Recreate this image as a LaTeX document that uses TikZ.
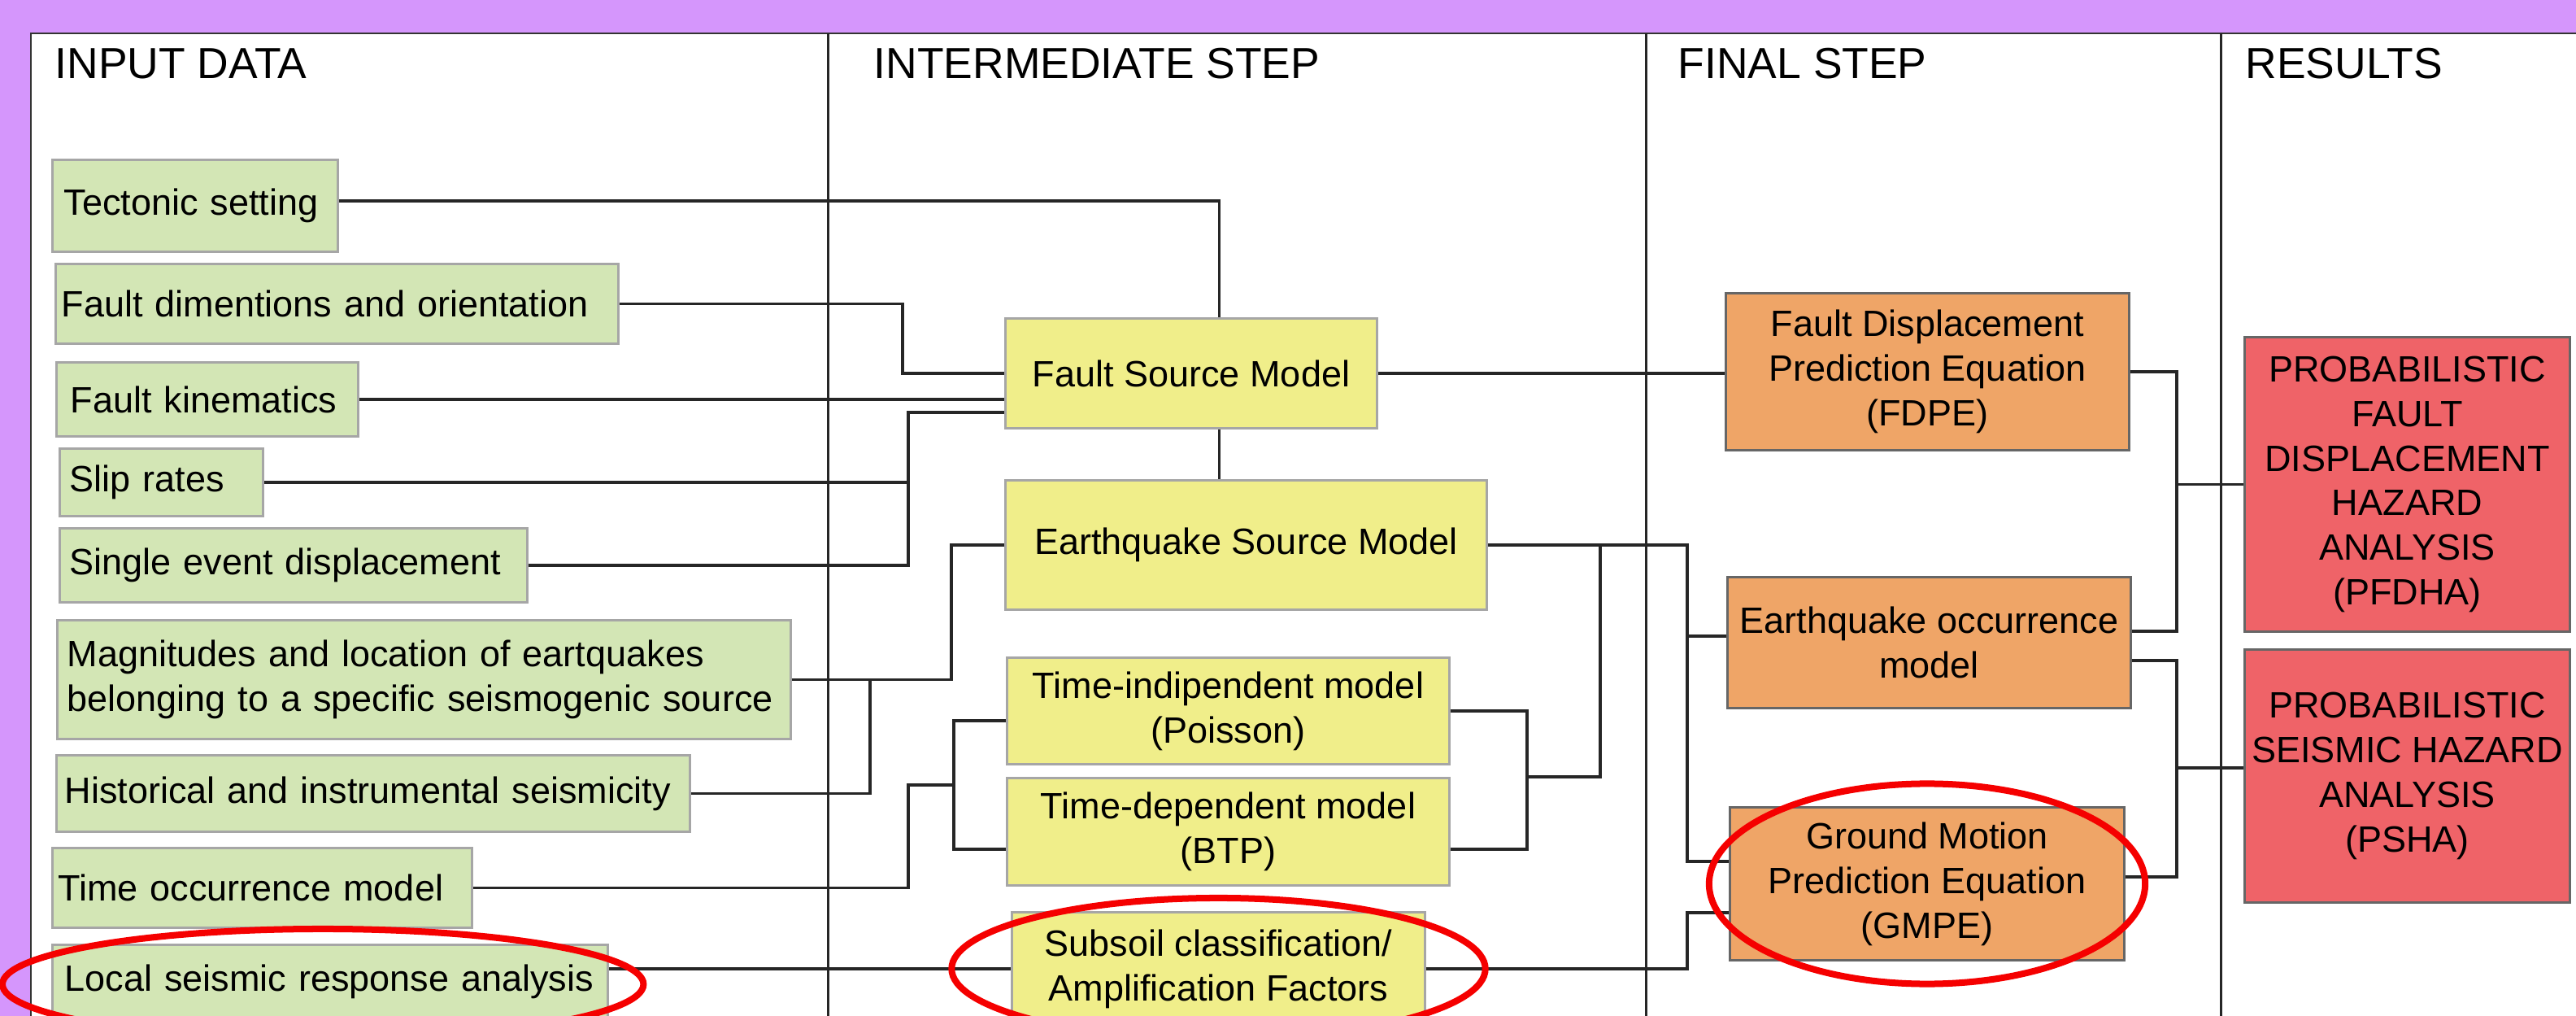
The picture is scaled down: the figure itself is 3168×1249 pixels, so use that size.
\documentclass[tikz,border=0pt]{standalone}
\usepackage{fontspec}
\setmainfont{Liberation Sans}
\usepackage{xcolor}
\usepackage{tikz}

\definecolor{fond}{RGB}{213,150,252}
\definecolor{vert}{RGB}{211,230,181}
\definecolor{jaune}{RGB}{240,238,138}
\definecolor{orangeclair}{RGB}{239,165,103}
\definecolor{rouge}{RGB}{239,99,104}
\definecolor{rougevif}{RGB}{245,0,0}

\newcommand{\corps}{\fontsize{12.8}{15.6}\selectfont}
\newcommand{\entete}{\fontsize{15.2}{18}\selectfont}

\begin{document}
\begin{tikzpicture}[x=0.01cm,y=-0.01cm]
    % Styles (MODIFIABLES)
    \tikzstyle{entree}=[draw=black!35,line width=0.03cm,fill=vert,anchor=west,align=left,font=\corps,inner ysep=0pt]
    \tikzstyle{etape}=[draw=black!35,line width=0.03cm,fill=jaune,align=center,font=\corps,inner sep=0.05cm]
    \tikzstyle{final}=[etape,draw=black!60,fill=orangeclair]
    \tikzstyle{resultat}=[etape,draw=black!60,fill=rouge]
    \tikzstyle{lien}=[line width=0.035cm,black!85]
    \tikzstyle{colonne}=[line width=0.03cm,black!85]
    \tikzstyle{titre}=[anchor=base west,inner sep=0pt,font=\entete]
    \tikzstyle{cercle}=[draw=rougevif,line width=0.08cm]
    % Fond et colonnes
    \clip (0,0) rectangle (3168,1249);
    \fill[fond] (0,0) rectangle (3168,1249);
    \filldraw[fill=white,draw=black!80,line width=0.015cm] (38,41) rectangle (3180,1260);
    \foreach \x in {1018,2024,2731}
        \draw[colonne] (\x,41) -- (\x,1249);
    \node[titre] (t1) at (67,97) {INPUT DATA};
    \node[titre] (t2) at (1074,97) {INTERMEDIATE STEP};
    \node[titre] (t3) at (2063,97) {FINAL STEP};
    \node[titre] (t4) at (2761,97) {RESULTS};
    % Noeuds : donnees d'entree
    \node[entree,inner xsep=0.14cm,text width=3.23cm,minimum height=1.12cm] (tect) at (63,253) {Tectonic setting};
    \node[entree,inner xsep=0.07cm,text width=6.78cm,minimum height=0.97cm] (fdim) at (67,373.5) {Fault dimentions and orientation};
    \node[entree,inner xsep=0.17cm,text width=3.37cm,minimum height=0.90cm] (fkin) at (68,491) {Fault kinematics};
    \node[entree,inner xsep=0.12cm,text width=2.26cm,minimum height=0.82cm] (slip) at (72,593) {Slip rates};
    \node[entree,inner xsep=0.12cm,text width=5.51cm,minimum height=0.90cm] (sed) at (72,695) {Single event displacement};
    \node[entree,inner xsep=0.12cm,text width=8.77cm,minimum height=1.45cm] (mag) at (69,835.5) {Magnitudes and location of eartquakes\\belonging to a specific seismogenic source};
    \node[entree,inner xsep=0.10cm,text width=7.59cm,minimum height=0.93cm] (hist) at (68,975.5) {Historical and instrumental seismicity};
    \node[entree,inner xsep=0.07cm,text width=5.02cm,minimum height=0.97cm] (tocc) at (63,1091.5) {Time occurrence model};
    \node[entree,inner xsep=0.15cm,text width=6.53cm,minimum height=0.90cm] (local) at (63,1207) {Local seismic response analysis};
    % Noeuds : etape intermediaire
    \node[etape,minimum width=4.56cm,minimum height=1.34cm] (fsm) at (1465,459) {Fault Source Model};
    \node[etape,minimum width=5.91cm,minimum height=1.58cm] (esm) at (1532.5,670) {Earthquake Source Model};
    \node[etape,minimum width=5.43cm,minimum height=1.30cm] (tind) at (1510.5,874) {Time-indipendent model\\(Poisson)};
    \node[etape,minimum width=5.43cm,minimum height=1.31cm] (tdep) at (1510.5,1022.5) {Time-dependent model\\(BTP)};
    \node[etape,minimum width=5.07cm,minimum height=1.38cm] (sub) at (1498.5,1191) {Subsoil classification/\\Amplification Factors};
    % Noeuds : etape finale
    \node[final,minimum width=4.95cm,minimum height=1.92cm] (fdpe) at (2370.5,457) {Fault Displacement\\Prediction Equation\\(FDPE)};
    \node[final,minimum width=4.95cm,minimum height=1.60cm] (eo) at (2372.5,790) {Earthquake occurrence\\model};
    \node[final,minimum width=4.84cm,minimum height=1.87cm] (gmpe) at (2370,1086.5) {Ground Motion\\Prediction Equation\\(GMPE)};
    % Noeuds : resultats
    \node[resultat,minimum width=3.99cm,minimum height=3.61cm] (pfdha) at (2960.5,595.5) {PROBABILISTIC\\FAULT\\DISPLACEMENT\\HAZARD\\ANALYSIS\\(PFDHA)};
    \node[resultat,minimum width=3.99cm,minimum height=3.10cm] (psha) at (2960.5,954) {PROBABILISTIC\\SEISMIC HAZARD\\ANALYSIS\\(PSHA)};
    % Points de jonction
    \coordinate (tronc) at (1499.5,0);
    \coordinate (busA) at (1110,0);
    \coordinate (busB) at (1117,507);
    \coordinate (busC) at (1070,0);
    \coordinate (busD) at (1170,0);
    \coordinate (busT) at (1117,965);
    \coordinate (busE) at (1173,965);
    \coordinate (busG) at (1878,955);
    \coordinate (busH) at (1968,0);
    \coordinate (busI) at (2075,0);
    \coordinate (busJ) at (2677,0);
    % Arcs
    \draw[lien] ([yshift=0.06cm]tect.east) -| (tronc |- fsm.north);
    \draw[lien] (fdim.east) -| (busA |- fsm.west) -- (fsm.west);
    \draw[lien] (fkin.east) -- (fkin.east -| fsm.west);
    \draw[lien] (slip.east) -| (busB) -- (busB -| fsm.west);
    \draw[lien] (sed.east) -| (busB);
    \draw[lien] (tronc |- fsm.south) -- (tronc |- esm.north);
    \draw[lien] (mag.east) -| (busD |- esm.west) -- (esm.west);
    \draw[lien] (hist.east) -| (busC |- mag.east);
    \draw[lien] (tocc.east) -| (busT) -- (busE);
    \draw[lien] ([yshift=-0.12cm]tind.west) -| (busE) |- ([yshift=-0.215cm]tdep.west);
    \draw[lien] (tind.east) -| (busG) |- ([yshift=-0.215cm]tdep.east);
    \draw[lien] (busG) -| (busH |- esm.east);
    \draw[lien] (esm.east) -| ([yshift=0.275cm]gmpe.west -| busI) -- ([yshift=0.275cm]gmpe.west);
    \draw[lien] ([yshift=0.08cm]eo.west -| busI) -- ([yshift=0.08cm]eo.west);
    \draw[lien] (fsm.east) -- (fsm.east -| fdpe.west);
    \draw[lien] (local.east |- sub.west) -- (sub.west);
    \draw[lien] (sub.east) -| ([yshift=-0.355cm]gmpe.west -| busI) -- ([yshift=-0.355cm]gmpe.west);
    \draw[lien] (fdpe.east) -| ([yshift=0.14cm]eo.east -| busJ) -- ([yshift=0.14cm]eo.east);
    \draw[lien] (busJ |- pfdha.west) -- (pfdha.west);
    \draw[lien] ([yshift=-0.22cm]eo.east) -| ([yshift=0.085cm]gmpe.east -| busJ) -- ([yshift=0.085cm]gmpe.east);
    \draw[lien] ([yshift=0.1cm]psha.west -| busJ) -- ([yshift=0.1cm]psha.west);
    % Cercles rouges
    \draw[cercle] ([shift={(-9,3)}]local.center) ellipse [x radius=3.94cm, y radius=0.68cm];
    \draw[cercle] (sub.center) ellipse [x radius=3.28cm, y radius=0.87cm];
    \draw[cercle] (gmpe.center) ellipse [x radius=2.68cm, y radius=1.23cm];
\end{tikzpicture}
\end{document}
